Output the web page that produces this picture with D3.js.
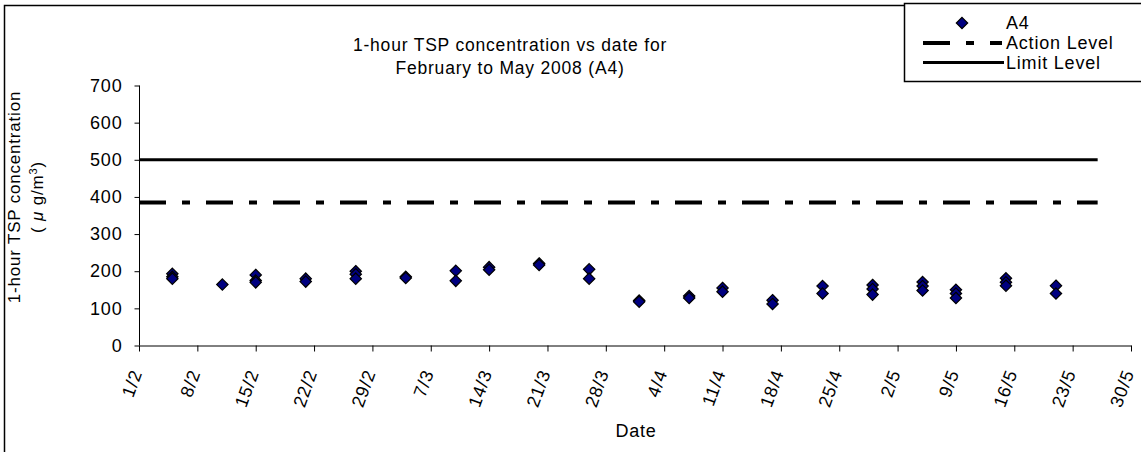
<!DOCTYPE html>
<html>
  <head>
    <meta charset="utf-8" />
    <title>1-hour TSP concentration (A4)</title>
    <style>
      body { margin: 0; background: #fff; }
      svg { font-family: "Liberation Sans", Arial, sans-serif; }
      svg text { letter-spacing: 0.8px; }
      .axis text { font-size: 18px; fill: #000; }
      .axis path, .axis line { stroke: #000; }
    </style>
  </head>
  <body>
    <svg width="1141" height="452"></svg>

    <script type="text/javascript" src="https://d3js.org/d3.v7.min.js"></script>
    <script type="text/javascript">
      // measured A4 readings (one date per cluster, several readings a day)
      const sampleDates = [
        "2008-02-05", "2008-02-05", "2008-02-05",
        "2008-02-11",
        "2008-02-15", "2008-02-15", "2008-02-15",
        "2008-02-21", "2008-02-21",
        "2008-02-27", "2008-02-27", "2008-02-27",
        "2008-03-04", "2008-03-04",
        "2008-03-10", "2008-03-10",
        "2008-03-14", "2008-03-14",
        "2008-03-20", "2008-03-20",
        "2008-03-26", "2008-03-26",
        "2008-04-01", "2008-04-01",
        "2008-04-07", "2008-04-07",
        "2008-04-11", "2008-04-11",
        "2008-04-17", "2008-04-17",
        "2008-04-23", "2008-04-23",
        "2008-04-29", "2008-04-29", "2008-04-29",
        "2008-05-05", "2008-05-05", "2008-05-05",
        "2008-05-09", "2008-05-09", "2008-05-09",
        "2008-05-15", "2008-05-15", "2008-05-15",
        "2008-05-21", "2008-05-21"
      ];
      const a4Values = [
        193, 185, 180,
        164,
        190, 175, 170,
        180, 172,
        200, 192, 180,
        185, 182,
        201, 174,
        211, 204,
        221, 217,
        205, 180,
        121, 118,
        133, 128,
        155, 145,
        122, 112,
        160, 140,
        163, 152, 137,
        171, 160, 148,
        150, 140, 128,
        181, 170, 161,
        161, 140
      ];

      const levelDates = ["2008-02-01", "2008-05-26"];
      const actionLevel = [385, 385];
      const limitLevel = [500, 500];

      const xStart = "2008-02-01", xEnd = "2008-05-30";
      const yTicks = [0, 100, 200, 300, 400, 500, 600, 700];

      const parse = d3.timeParse("%Y-%m-%d");
      const fmt = d3.timeFormat("%-d/%-m");

      let svg = d3.select("svg");

      // outer chart frame (cropped on the right and bottom)
      svg.append("rect")
        .attr("x", 4.5).attr("y", 5.5)
        .attr("width", 1160).attr("height", 470)
        .attr("fill", "#fff").attr("stroke", "#000").attr("stroke-width", 1.5);

      const x = d3.scaleTime()
        .domain([parse(xStart), parse(xEnd)])
        .range([139, 1131]);
      const y = d3.scaleLinear()
        .domain([0, 700])
        .range([345.5, 85.5]);

      const xTickVals = d3.timeDay.range(parse(xStart), d3.timeDay.offset(parse(xEnd), 1), 7);

      // axes
      const gy = svg.append("g")
        .attr("class", "axis")
        .attr("transform", "translate(139.5,0)")
        .call(d3.axisLeft(y).tickValues(yTicks).tickSize(5).tickPadding(12).tickSizeOuter(0));
      gy.select(".domain").attr("d", "M0," + y(0) + "V" + y(700));

      const gx = svg.append("g")
        .attr("class", "axis")
        .attr("transform", "translate(0," + y(0) + ")")
        .call(d3.axisBottom(x).tickValues(xTickVals).tickFormat(fmt).tickSize(6).tickSizeOuter(0));
      gx.selectAll(".tick text")
        .attr("text-anchor", "end")
        .attr("dy", "0.35em")
        .attr("transform", "translate(-3,25) rotate(-70)")
        .attr("y", 0);

      // level lines
      const line = d3.line()
        .x((d, i) => x(parse(levelDates[i])))
        .y(d => y(d));

      svg.append("path")
        .datum(limitLevel)
        .attr("d", line)
        .attr("fill", "none")
        .attr("stroke", "#000")
        .attr("stroke-width", 3);

      svg.append("path")
        .datum(actionLevel)
        .attr("d", line)
        .attr("fill", "none")
        .attr("stroke", "#000")
        .attr("stroke-width", 4)
        .attr("stroke-dasharray", "27,16,8,16");

      // A4 points
      const diamond = d3.symbol().type(d3.symbolDiamond2).size(82);
      svg.append("g")
        .selectAll("path")
        .data(a4Values)
        .join("path")
        .attr("d", diamond)
        .attr("transform", (d, i) => "translate(" + x(parse(sampleDates[i])) + "," + y(d) + ")")
        .attr("fill", "#000080")
        .attr("stroke", "#000")
        .attr("stroke-width", 1.2);

      // titles
      svg.append("text")
        .attr("x", 510).attr("y", 51)
        .attr("text-anchor", "middle")
        .attr("font-size", 17.5)
        .text("1-hour TSP concentration vs date for");
      svg.append("text")
        .attr("x", 510).attr("y", 74)
        .attr("text-anchor", "middle")
        .attr("font-size", 17.5)
        .text("February to May 2008 (A4)");

      svg.append("text")
        .attr("x", 636).attr("y", 437)
        .attr("text-anchor", "middle")
        .attr("font-size", 18)
        .text("Date");

      const yTitle = svg.append("g")
        .attr("transform", "translate(0,197) rotate(-90)");
      yTitle.append("text")
        .attr("x", 0).attr("y", 20)
        .attr("text-anchor", "middle")
        .attr("font-size", 17)
        .text("1-hour TSP concentration");
      const t2 = yTitle.append("text")
        .attr("x", 0).attr("y", 43)
        .attr("text-anchor", "middle")
        .attr("font-size", 17);
      t2.append("tspan").text("( ");
      t2.append("tspan").attr("font-style", "italic").text("\u03bc");
      t2.append("tspan").text(" g/m");
      t2.append("tspan").attr("font-size", 11).attr("baseline-shift", "super").text("3");
      t2.append("tspan").text(")");

      // legend
      const lg = svg.append("g");
      lg.append("rect")
        .attr("x", 904.5).attr("y", 3.5)
        .attr("width", 260).attr("height", 78)
        .attr("fill", "#fff").attr("stroke", "#000").attr("stroke-width", 1.5);
      lg.append("path")
        .attr("d", diamond)
        .attr("transform", "translate(962,23)")
        .attr("fill", "#000080").attr("stroke", "#000").attr("stroke-width", 1.2);
      lg.append("line")
        .attr("x1", 923).attr("x2", 1002).attr("y1", 43).attr("y2", 43)
        .attr("stroke", "#000").attr("stroke-width", 4)
        .attr("stroke-dasharray", "27,16,8,16");
      lg.append("line")
        .attr("x1", 923).attr("x2", 1004).attr("y1", 62.5).attr("y2", 62.5)
        .attr("stroke", "#000").attr("stroke-width", 3);
      const legendLabels = ["A4", "Action Level", "Limit Level"];
      lg.selectAll("text.lbl")
        .data(legendLabels)
        .join("text")
        .attr("class", "lbl")
        .attr("x", 1006)
        .attr("y", (d, i) => 23 + i * 20)
        .attr("dy", "0.35em")
        .attr("font-size", 18)
        .text(d => d);
    </script>
  </body>
</html>
